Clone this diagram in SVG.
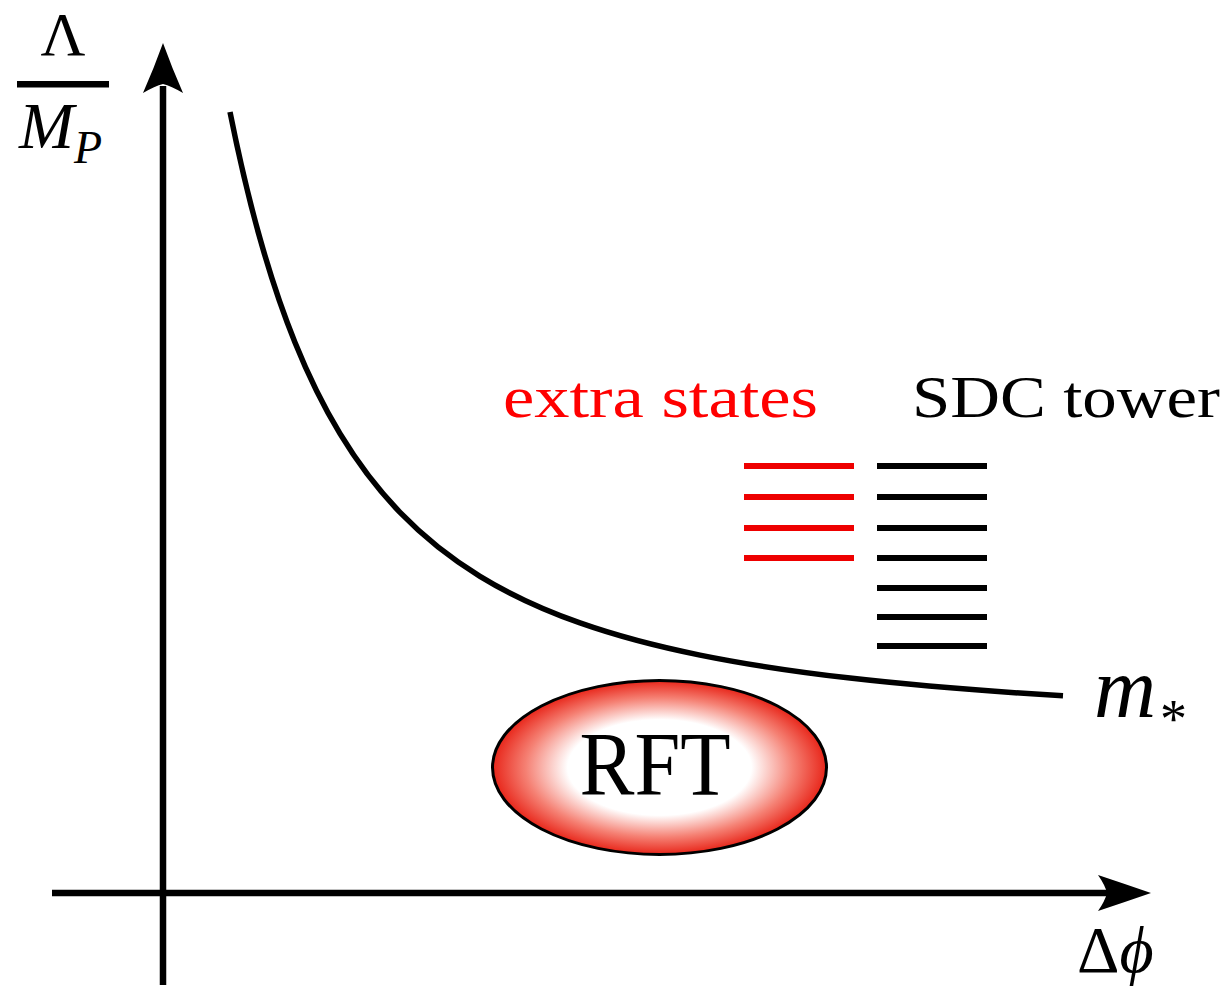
<svg xmlns="http://www.w3.org/2000/svg" width="1227" height="990" viewBox="0 0 1227 990">
  <style>
    .serif { font-family: "Liberation Serif", "Times New Roman", serif; fill: #000; }
    .it { font-style: italic; }
    .axis { stroke: #000; stroke-width: 6.5; fill: none; }
    .red { stroke: #ee0000; stroke-width: 6; }
    .blk { stroke: #000; stroke-width: 6; }
  </style>
  <defs>
    <radialGradient id="rftGrad" cx="0.5" cy="0.5" r="0.5">
      <stop offset="0" stop-color="#ffffff"/>
      <stop offset="0.55" stop-color="#ffffff"/>
      <stop offset="0.8" stop-color="#f58174"/>
      <stop offset="1" stop-color="#e8261a"/>
    </radialGradient>
  </defs>
  <rect width="1227" height="990" fill="#ffffff"/>

  <g id="axes">
    <line class="axis" x1="163" y1="985" x2="163" y2="86"/>
    <path d="M163,43 Q172,68 183,93 Q171,86 163,84 Q155,86 143,93 Q154,68 163,43 Z" fill="#000"/>
    <line class="axis" x1="52" y1="893" x2="1108" y2="893"/>
    <path d="M1151,893 Q1125,902 1098,911 Q1105,901 1107,893 Q1105,885 1098,875 Q1125,884 1151,893 Z" fill="#000"/>
  </g>

  <g id="y-label">
    <text class="serif" x="63" y="55" font-size="62" text-anchor="middle">Λ</text>
    <rect x="17" y="81" width="92" height="6.5" fill="#000"/>
    <text class="serif it" x="19" y="148" font-size="66">M</text>
    <text class="serif it" x="74" y="163" font-size="46">P</text>
  </g>

  <g id="x-label">
    <text class="serif" x="1077" y="972" font-size="66">Δ<tspan class="it">ϕ</tspan></text>
  </g>

  <g id="curve">
    <path d="M230,112 C240,162.1 250,203.2 260,238.6 C271.67,279.96 283.33,313.59 295,342.5 C310,379.67 325,408.92 340,433.7 C360,466.74 380,491.7 400,512.4 C426.67,540 453.33,560.01 480,576.3 C513.33,596.66 546.67,611.16 580,622.9 C620,636.98 660,646.98 700,655.1 C750,665.26 800,672.36 850,678.1 C921,686.25 992,691.59 1063,695.8" fill="none" stroke="#000" stroke-width="5.5"/>
  </g>

  <g id="m-star">
    <text class="serif it" x="1094" y="717" font-size="86">m</text>
    <text class="serif" x="1160" y="737" font-size="54">*</text>
  </g>

  <g id="extra-states">
    <text class="serif" x="503" y="417" font-size="60" style="fill:#ff0000" textLength="315" lengthAdjust="spacingAndGlyphs">extra states</text>
    <line class="red" x1="744" y1="466" x2="854" y2="466"/>
    <line class="red" x1="744" y1="497" x2="854" y2="497"/>
    <line class="red" x1="744" y1="528" x2="854" y2="528"/>
    <line class="red" x1="744" y1="558" x2="854" y2="558"/>
  </g>

  <g id="sdc-tower">
    <text class="serif" x="912" y="417" font-size="60" textLength="308" lengthAdjust="spacingAndGlyphs">SDC tower</text>
    <line class="blk" x1="877" y1="466" x2="987" y2="466"/>
    <line class="blk" x1="877" y1="497" x2="987" y2="497"/>
    <line class="blk" x1="877" y1="528" x2="987" y2="528"/>
    <line class="blk" x1="877" y1="558" x2="987" y2="558"/>
    <line class="blk" x1="877" y1="588" x2="987" y2="588"/>
    <line class="blk" x1="877" y1="617" x2="987" y2="617"/>
    <line class="blk" x1="877" y1="646" x2="987" y2="646"/>
  </g>

  <g id="rft">
    <ellipse cx="659.5" cy="767.5" rx="167" ry="87" fill="url(#rftGrad)" stroke="#000" stroke-width="3"/>
    <text class="serif" x="655" y="795" font-size="90" text-anchor="middle" textLength="151" lengthAdjust="spacingAndGlyphs">RFT</text>
  </g>
</svg>
